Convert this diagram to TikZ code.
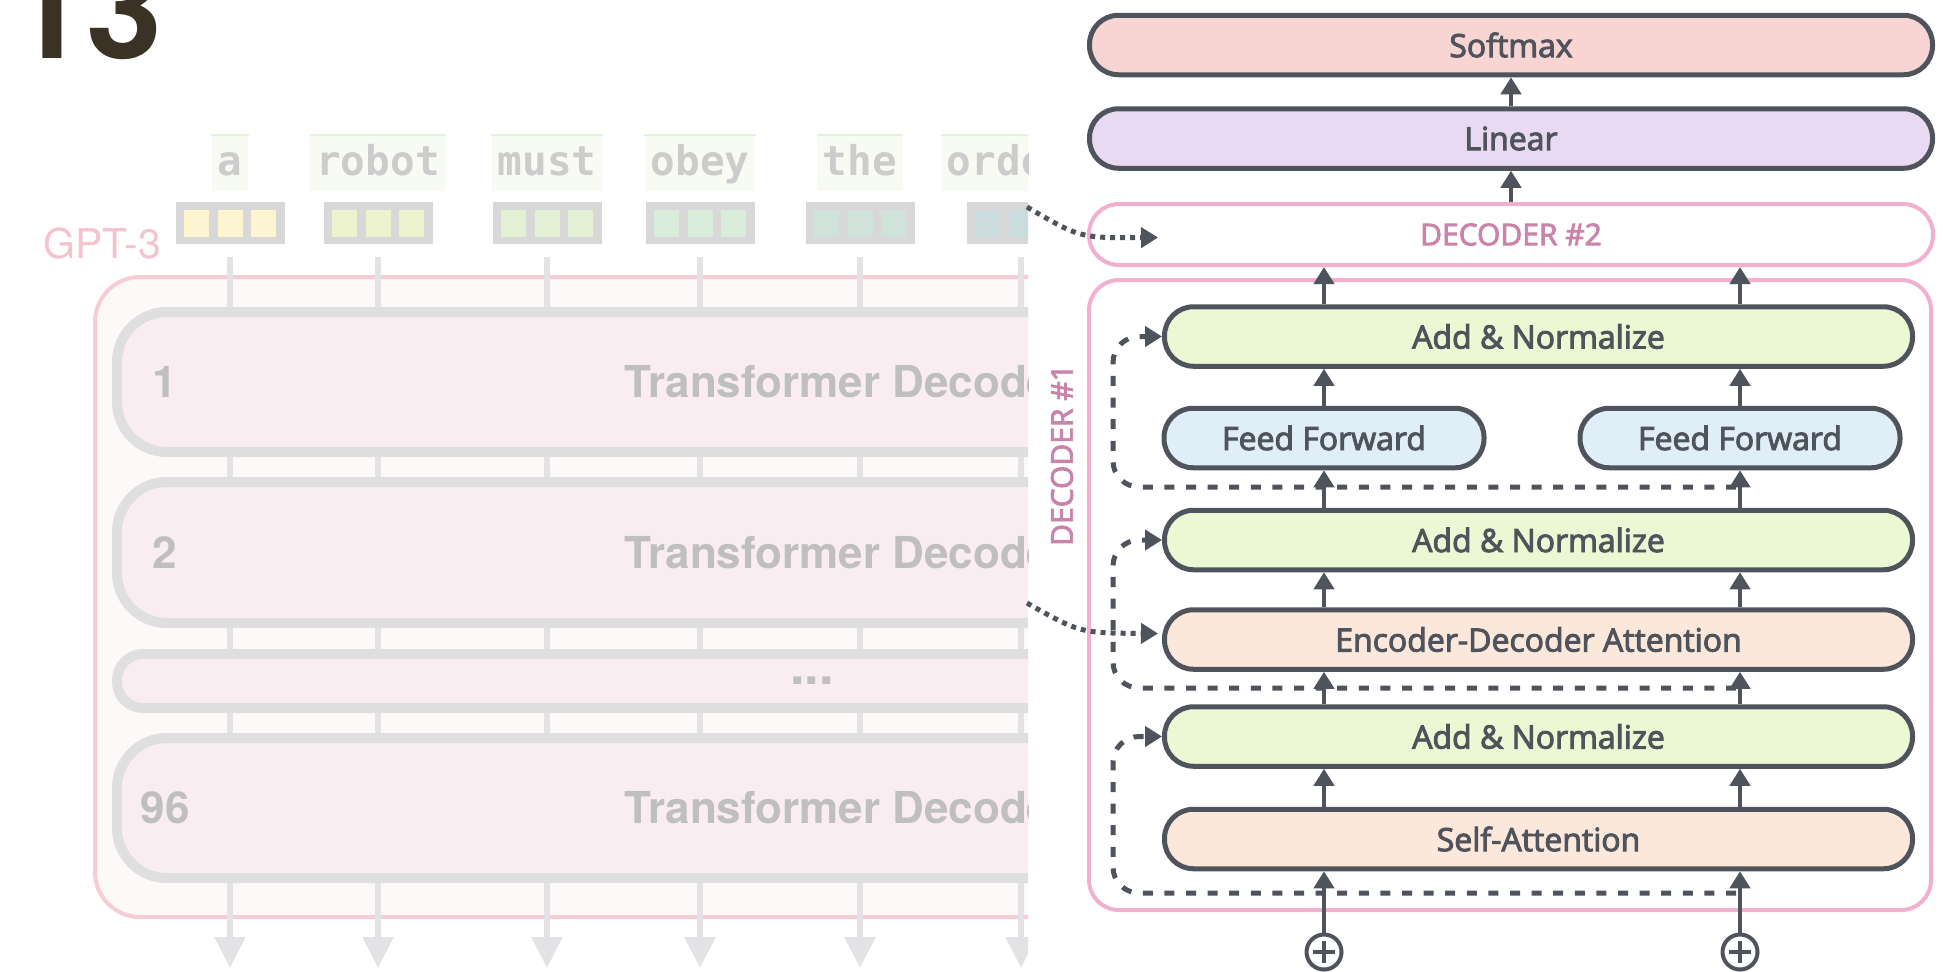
\documentclass[tikz,border=0pt]{standalone}
\usepackage{fontspec}
\setmainfont{Open Sans}
\newfontfamily\semib{Open Sans}[FakeBold=3]
\newfontfamily\helv{TeX Gyre Heros}
\newfontfamily\mono{DejaVu Sans Mono}
\usetikzlibrary{calc,arrows.meta}

\definecolor{dk}{HTML}{4F535C}
\definecolor{softmaxfill}{HTML}{F8D5D3}
\definecolor{linearfill}{HTML}{E8DAF3}
\definecolor{normfill}{HTML}{EAF8D3}
\definecolor{fffill}{HTML}{E0EEF8}
\definecolor{attnfill}{HTML}{FCE8DA}
\definecolor{decpink}{HTML}{F2B0D0}
\definecolor{dectext}{HTML}{C984AC}
% faded GPT-3 stack
\definecolor{fadeline}{HTML}{E3E3E6}
\definecolor{fadeblock}{HTML}{DFDFDF}
\definecolor{fadefill}{HTML}{F9EDF1}
\definecolor{fadeouter}{HTML}{F6CDD6}
\definecolor{fadeback}{HTML}{FCF9F8}
\definecolor{fadetext}{HTML}{BFBFBF}
\definecolor{toktext}{HTML}{CCCCCC}
\definecolor{tokback}{HTML}{F8FBF3}
\definecolor{tokline}{HTML}{E4F3D7}
\definecolor{embgray}{HTML}{D8D8D8}
\definecolor{gptpink}{HTML}{F4C4CE}
\definecolor{numdark}{HTML}{3B3226}

\begin{document}
\begin{tikzpicture}[x=0.5pt,y=-0.5pt,inner sep=0pt,
    every node/.style={text=dk},
    box/.style={draw=dk,line width=2.5pt,rounded corners=14.5pt,minimum height=29.75pt,
        font=\semib\fontsize{16}{18}\selectfont},
    up/.style={draw=dk,line width=2.25pt,-{Triangle[length=8.5pt,width=10pt]}},
    resid/.style={draw=dk,line width=2.5pt,dash pattern=on 5pt off 5.8pt,rounded corners=13pt,
        -{Triangle[length=8.5pt,width=10pt]}},
    feed/.style={draw=dk,line width=2.5pt,dash pattern=on 2.5pt off 2.5pt,
        -{Triangle[length=8.5pt,width=10pt]}},
    blk/.style={draw=fadeblock,fill=fadefill,line width=5pt,minimum width=640pt},
    fadelabel/.style={font=\helv\bfseries\fontsize{22}{22}\selectfont,text=fadetext}]
    \useasboundingbox (0,0) rectangle (1946,971);

    % faded GPT-3 stack, cut off by the panel
    \begin{scope}
    \clip (0,0) rectangle (1028,971);
    \node[anchor=base west,font=\helv\bfseries\fontsize{68}{68}\selectfont,text=numdark] (pagenum) at (10,58) {13};
    \draw[fadeouter,line width=2pt,fill=fadeback,rounded corners=22.5pt] (95,277) rectangle (1300,917);
    \node[anchor=base west,font=\helv\fontsize{20.5}{20}\selectfont,text=gptpink] (gpt) at (43,258) {GPT-3};
    \foreach \tok/\cx/\hue [count=\i] in {a/230/FCF5CF,robot/378/EEF3CF,must/547/E3F0D3,
        obey/700/D9ECD9,the/860/D0E3DB,orders/1021/CBDCDF}{
      \node[anchor=base,fill=tokback,inner xsep=3pt,text height=20pt,text depth=8pt,
        font=\mono\bfseries\fontsize{20.5}{20}\selectfont,text=toktext] (tok\i) at (\cx,175) {\tok};
      \draw[tokline,line width=1pt] (tok\i.north west) -- (tok\i.north east);
      \node[fill=embgray,minimum width=54.5pt,minimum height=21pt] (emb\i) at (\cx,223) {};
      \definecolor{sq}{HTML}{\hue}
      \foreach \s in {-33.5,0,33.5}
        \fill[sq] ($(emb\i)+(\s-12.5,-13.5)$) rectangle ++(25,27);
      \coordinate (out\i) at (\cx,968);
      \draw[fadeline,line width=3pt,-{Triangle[length=15.5pt,width=15pt]}]
        ($(emb\i.south)+(0,13)$) -- (out\i);
    }
    % decoder blocks
    \foreach \n/\cy/\h in {1/382/70,2/552.5/70.5,96/808/70}{
      \node[blk,rounded corners=25pt,minimum height=\h pt] (blk\n) at (757,\cy) {};
      \node[fadelabel] (num\n) at ($(blk\n.west)+(53,0)$) {\n};
      \node[fadelabel,anchor=west] (name\n) at ($(blk\n.west)+(512,0)$) {Transformer Decoder};
    }
    \node[blk,rounded corners=13pt,minimum height=27pt] (blkd) at (757,681) {};
    \node[fadelabel,font=\helv\bfseries\fontsize{26}{26}\selectfont] (dots) at ($(blkd.west)+(700,0)$) {...};
    \end{scope}

    % output layers
    \node[box,fill=softmaxfill,minimum width=421.5pt] (softmax) at (1511,45) {Softmax};
    \node[box,fill=linearfill,minimum width=421.5pt] (linear) at (1511,138.5) {Linear};
    \node[draw=decpink,line width=2pt,rounded corners=15pt,minimum width=422pt,minimum height=30.5pt,
        font=\semib\fontsize{15}{15}\selectfont,text=dectext] (dec2) at (1511,234.5) {DECODER \#2};

    % decoder #1
    \node[draw=decpink,line width=2pt,rounded corners=15pt,minimum width=421pt,minimum height=315pt]
        (dec1) at (1510,595) {};
    \node[rotate=90,font=\semib\fontsize{15}{15}\selectfont,text=dectext] (dec1lab)
        at ($(dec1.west)+(-25,-140)$) {DECODER \#1};
    \node[box,fill=normfill,minimum width=374pt] (an1) at (1538.5,336.5) {Add \& Normalize};
    \node[box,fill=fffill,minimum width=160pt] (ffl) at (1324,438) {Feed Forward};
    \node[box,fill=fffill,minimum width=160pt] (ffr) at (1740,438) {Feed Forward};
    \node[box,fill=normfill,minimum width=374pt] (an2) at (1538.5,540) {Add \& Normalize};
    \node[box,fill=attnfill,minimum width=374pt] (ed) at (1538.5,639.5) {Encoder-Decoder Attention};
    \node[box,fill=normfill,minimum width=374pt] (an3) at (1538.5,736.5) {Add \& Normalize};
    \node[box,fill=attnfill,minimum width=374pt] (sa) at (1538.5,839) {Self-Attention};

    % inputs
    \node[draw=dk,circle,line width=2pt,minimum size=17.5pt] (plusL) at (1324,952) {};
    \node[draw=dk,circle,line width=2pt,minimum size=17.5pt] (plusR) at (1740,952) {};
    \foreach \p in {plusL,plusR}
      \draw[dk,line width=2.2pt] ($(\p)+(-11,0)$) -- ($(\p)+(11,0)$) ($(\p)+(0,-11)$) -- ($(\p)+(0,11)$);

    % residual connections
    \coordinate (res1) at (1736,487);
    \coordinate (res2) at (1736,688);
    \coordinate (res3) at (1736,893);
    \foreach \r/\b in {res1/an1,res2/an2,res3/an3}
      \draw[resid] (\r) -| ($(\b.west)+(-49,0)$) -- (\b.west);

    % data flow
    \coordinate (colL) at (1324,0);
    \coordinate (colR) at (1740,0);
    \foreach \c in {colL,colR}{
      \foreach \a/\b in {sa/an3,an3/ed,ed/an2,an1/dec2}
        \draw[up] (\a.north -| \c) -- (\b.south -| \c);
    }
    \draw[up] (an2.north -| colL) -- (ffl.south);
    \draw[up] (an2.north -| colR) -- (ffr.south);
    \draw[up] (ffl.north) -- (an1.south -| colL);
    \draw[up] (ffr.north) -- (an1.south -| colR);
    \draw[up] (plusL.north) -- (sa.south -| plusL);
    \draw[up] (plusR.north) -- (sa.south -| plusR);
    \draw[up] (dec2.north) -- (linear.south);
    \draw[up] (linear.north) -- (softmax.south);

    % outputs of the stack
    \coordinate (enc1) at (1027,207);
    \coordinate (enc2) at (1027,603);
    \draw[feed] (enc1) .. controls (1080,238) .. ($(dec2.west)+(71,3)$);
    \draw[feed] (enc2) .. controls (1080,633) .. ($(ed.west)+(-4,-6)$);
\end{tikzpicture}
\end{document}
